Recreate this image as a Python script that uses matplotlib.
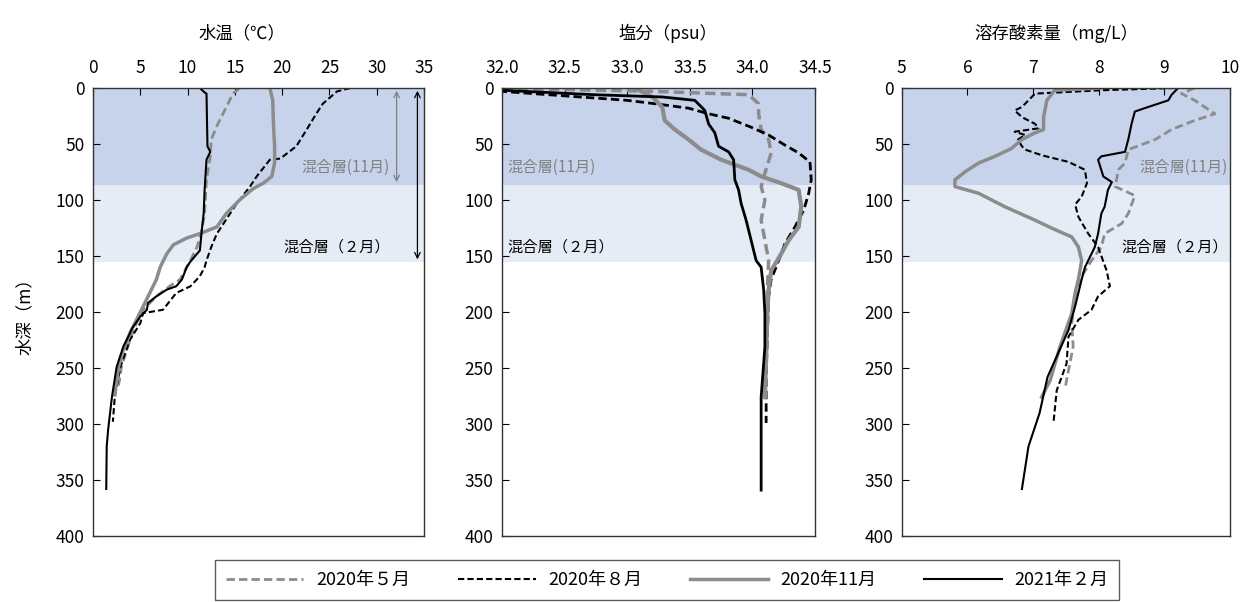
import matplotlib
matplotlib.use("Agg")
import matplotlib.pyplot as plt

plt.rcParams['font.family'] = ['Noto Sans CJK JP', 'DejaVu Sans']

# 観測日
labels = ['2020年５月', '2020年８月', '2020年11月', '2021年２月']
colors = ['#8c8c8c', 'black', '#8c8c8c', 'black']
styles = ['--', '--', '-', '-']

# 水温 (depth m, ℃)
t_may_d = [0, 5, 17, 32, 46, 61, 82, 112, 127, 142, 154, 171, 177, 186, 198, 210, 225, 249, 261, 268]
t_may_v = [15.5, 14.8, 14.1, 13.2, 12.5, 12.4, 12.0, 11.8, 11.5, 11.0, 10.3, 9.2, 8.1, 6.7, 5.3, 4.6, 3.9, 3.0, 2.8, 2.6]
t_aug_d = [0, 3, 14, 23, 37, 52, 63, 64, 79, 88, 103, 112, 121, 130, 142, 154, 160, 168, 177, 183, 198, 201, 210, 225, 249, 276, 298]
t_aug_v = [27.2, 25.8, 24.3, 23.6, 22.6, 21.5, 19.8, 18.7, 17.3, 16.6, 15.2, 14.5, 13.8, 13.1, 12.5, 12.0, 11.8, 11.3, 10.3, 8.8, 7.4, 5.3, 5.0, 3.9, 2.9, 2.3, 2.1]
t_nov_d = [0, 11, 37, 52, 67, 79, 85, 90, 100, 112, 124, 130, 134, 140, 148, 160, 171, 183, 195, 207, 219, 234, 249, 262, 274]
t_nov_v = [18.7, 19.0, 19.1, 19.2, 19.2, 18.9, 18.0, 16.9, 15.5, 14.1, 13.1, 11.3, 9.9, 8.5, 7.8, 7.1, 6.7, 6.0, 5.3, 4.6, 3.9, 3.2, 2.7, 2.5, 2.3]
t_feb_d = [0, 4, 5, 52, 57, 64, 91, 112, 127, 145, 155, 160, 171, 177, 180, 186, 192, 198, 204, 215, 219, 231, 249, 276, 305, 320, 358]
t_feb_v = [11.3, 11.8, 12.0, 12.1, 12.4, 12.0, 11.8, 11.7, 11.5, 11.3, 10.3, 9.9, 9.4, 8.8, 7.8, 6.7, 5.8, 5.7, 5.0, 4.1, 3.9, 3.2, 2.5, 2.0, 1.6, 1.45, 1.4]

# 塩分 (depth m, psu)
s_may_d = [0, 1, 3, 6, 14, 23, 37, 46, 58, 76, 88, 100, 118, 136, 154, 180, 220, 268]
s_may_v = [32.0, 32.34, 33.22, 33.97, 34.05, 34.05, 34.07, 34.13, 34.15, 34.10, 34.07, 34.10, 34.07, 34.10, 34.13, 34.12, 34.11, 34.10]
s_aug_d = [0, 3, 11, 14, 18, 23, 27, 35, 42, 51, 58, 66, 82, 94, 109, 124, 139, 154, 171, 186, 220, 260, 299]
s_aug_v = [32.0, 32.0, 33.0, 33.22, 33.49, 33.65, 33.81, 33.99, 34.13, 34.26, 34.37, 34.46, 34.47, 34.45, 34.41, 34.34, 34.26, 34.21, 34.15, 34.13, 34.12, 34.11, 34.11]
s_nov_d = [0, 8, 17, 29, 37, 46, 55, 64, 73, 79, 85, 91, 106, 124, 136, 148, 163, 180, 200, 240, 276]
s_nov_v = [33.06, 33.20, 33.28, 33.30, 33.38, 33.49, 33.59, 33.75, 33.97, 34.07, 34.23, 34.37, 34.39, 34.37, 34.29, 34.23, 34.15, 34.13, 34.12, 34.11, 34.10]
s_feb_d = [0, 2, 6, 8, 11, 20, 32, 40, 52, 57, 64, 82, 91, 103, 118, 136, 154, 160, 180, 201, 231, 276, 359]
s_feb_v = [32.0, 32.0, 32.74, 33.28, 33.54, 33.62, 33.65, 33.70, 33.73, 33.81, 33.85, 33.86, 33.89, 33.91, 33.95, 33.99, 34.03, 34.07, 34.09, 34.10, 34.10, 34.07, 34.07]

# 溶存酸素量 (depth m, mg/L)
o_may_d = [0, 5, 11, 23, 29, 37, 46, 55, 67, 73, 88, 96, 112, 121, 130, 142, 154, 168, 186, 210, 231, 261, 268]
o_may_v = [9.46, 9.26, 9.46, 9.77, 9.46, 9.11, 8.86, 8.45, 8.40, 8.30, 8.25, 8.55, 8.45, 8.35, 8.09, 8.04, 7.89, 7.74, 7.64, 7.59, 7.61, 7.51, 7.49]
o_aug_d = [0, 2, 5, 17, 20, 26, 32, 36, 39, 42, 46, 52, 55, 60, 66, 73, 85, 97, 104, 115, 130, 142, 163, 177, 186, 198, 207, 222, 246, 270, 299]
o_aug_v = [9.16, 8.04, 7.03, 6.83, 6.72, 6.83, 7.03, 7.08, 6.72, 6.88, 6.77, 6.83, 6.88, 7.13, 7.54, 7.79, 7.82, 7.74, 7.64, 7.69, 7.84, 7.99, 8.12, 8.17, 7.99, 7.89, 7.69, 7.54, 7.51, 7.36, 7.31]
o_nov_d = [0, 2, 11, 26, 37, 40, 46, 54, 61, 67, 75, 82, 88, 94, 106, 118, 125, 133, 142, 154, 171, 183, 201, 231, 261, 276]
o_nov_v = [8.04, 7.33, 7.21, 7.16, 7.16, 7.03, 6.83, 6.67, 6.42, 6.17, 5.96, 5.81, 5.81, 6.17, 6.57, 7.03, 7.28, 7.59, 7.69, 7.74, 7.69, 7.64, 7.59, 7.41, 7.26, 7.13]
o_feb_d = [0, 6, 11, 17, 21, 32, 46, 57, 61, 64, 79, 84, 91, 106, 112, 130, 142, 160, 171, 195, 216, 237, 258, 290, 320, 358]
o_feb_v = [9.21, 9.11, 9.06, 8.75, 8.55, 8.50, 8.45, 8.40, 8.04, 7.99, 8.07, 8.20, 8.14, 8.09, 8.04, 7.99, 7.94, 7.79, 7.74, 7.64, 7.54, 7.38, 7.22, 7.10, 6.93, 6.83]

# 混合層の深さ (m)
mld_nov = 86.5
mld_feb = 155.5

panels = [
    ('水温（℃）', (0, 35), range(0, 36, 5), '%d',
     [(t_may_d, t_may_v), (t_aug_d, t_aug_v), (t_nov_d, t_nov_v), (t_feb_d, t_feb_v)]),
    ('塩分（psu）', (32.0, 34.5), [32.0, 32.5, 33.0, 33.5, 34.0, 34.5], '%.1f',
     [(s_may_d, s_may_v), (s_aug_d, s_aug_v), (s_nov_d, s_nov_v), (s_feb_d, s_feb_v)]),
    ('溶存酸素量（mg/L）', (5, 10), range(5, 11), '%d',
     [(o_may_d, o_may_v), (o_aug_d, o_aug_v), (o_nov_d, o_nov_v), (o_feb_d, o_feb_v)]),
]
widths = [2.0, 1.5, 2.5, 1.5]
sal_widths = [2.5, 2.0, 3.0, 2.0]

fig = plt.figure(figsize=(12.45, 6.02), dpi=100)
boxes = [(0.0747, 0.2659), (0.4032, 0.2514), (0.7243, 0.2637)]
title_x = [0.45, 0.53, 0.47]
axes = []
for (left, w), tx, (title, xlim, ticks, fmt, series) in zip(boxes, title_x, panels):
    ax = fig.add_axes([left, 0.1096, w, 0.7442])
    axes.append(ax)
    ax.axhspan(0, mld_nov, color='#c6d3ea', lw=0, zorder=0)
    ax.axhspan(mld_nov, mld_feb, color='#e6ecf6', lw=0, zorder=0)
    for i, (d, v) in enumerate(series):
        lw = sal_widths[i] if title.startswith('塩分') else widths[i]
        ax.plot(v, d, color=colors[i], ls=styles[i], lw=lw, label=labels[i],
                dashes=(3, 1.5) if styles[i] == '--' else (None, None))
    ax.set_xlim(*xlim)
    ax.set_ylim(400, 0)
    ax.set_yticks(range(0, 401, 50))
    ax.set_xticks(list(ticks))
    ax.set_xticklabels([fmt % t for t in ticks])
    ax.xaxis.tick_top()
    ax.xaxis.set_label_position('top')
    ax.set_xlabel(title, fontsize=12.5)
    ax.xaxis.set_label_coords(tx, 1.11)
    ax.tick_params(axis='both', direction='in', labelsize=12.5, length=5, pad=6)
    ax.tick_params(axis='x', pad=8)
    for sp in ax.spines.values():
        sp.set_color('#333333')
        sp.set_linewidth(1.0)

axes[0].set_ylabel('水深（m）', fontsize=12.5)
axes[0].yaxis.set_label_coords(-0.18, 0.5)

# 混合層の表示
ax = axes[0]
ax.text(31.4, 71, '混合層(11月)', color='#808080', fontsize=11, ha='right', va='center')
ax.text(31.4, 142, '混合層（２月）', color='black', fontsize=11, ha='right', va='center')
ax.annotate('', xy=(32.1, 0), xytext=(32.1, mld_nov),
            arrowprops=dict(arrowstyle='<->', color='#808080', lw=0.9))
ax.annotate('', xy=(34.3, 0), xytext=(34.3, mld_feb),
            arrowprops=dict(arrowstyle='<->', color='black', lw=0.9))

ax = axes[1]
ax.text(32.04, 71, '混合層(11月)', color='#808080', fontsize=11, ha='left', va='center')
ax.text(32.04, 142, '混合層（２月）', color='black', fontsize=11, ha='left', va='center')

ax = axes[2]
ax.text(9.97, 71, '混合層(11月)', color='#808080', fontsize=11, ha='right', va='center')
ax.text(9.97, 142, '混合層（２月）', color='black', fontsize=11, ha='right', va='center')

handles, _ = axes[0].get_legend_handles_labels()
leg = fig.legend(handles, labels, loc='upper left', bbox_to_anchor=(215 / 1245, 1 - 560 / 602),
                 ncol=4, fontsize=13, frameon=True, fancybox=False, edgecolor='#333333',
                 handlelength=4.3, handletextpad=0.7, columnspacing=2.65, borderpad=0.6,
                 borderaxespad=0)
leg.get_frame().set_linewidth(1.0)

fig.savefig('out.png', dpi=100)
